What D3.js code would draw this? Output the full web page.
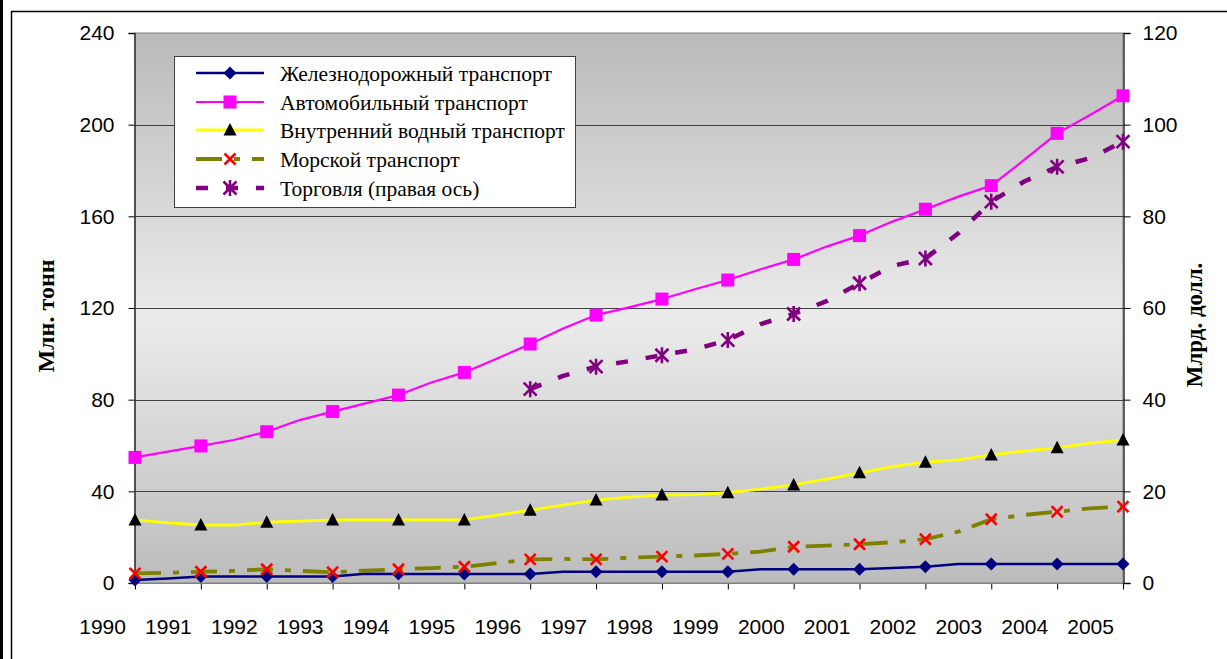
<!DOCTYPE html>
<html><head><meta charset="utf-8">
<script src="https://cdn.jsdelivr.net/npm/d3@7/dist/d3.min.js"></script>
<style>body{margin:0;background:#fff}svg{display:block}</style>
</head><body>
<svg id="chart" width="1227" height="659"></svg>
<script>
// ---- data ----
const years = [1990,1991,1992,1993,1994,1995,1996,1997,1998,1999,2000,2001,2002,2003,2004,2005];
// line vertices at half-year steps (markers sit on whole years)
const pathYears = [1990,1990.5,1991,1991.5,1992,1992.5,1993,1993.5,1994,1994.5,1995,1995.5,1996,1996.5,1997,1997.5,
  1998,1998.5,1999,1999.5,2000,2000.5,2001,2001.5,2002,2002.5,2003,2003.5,2004,2004.5,2005];
const rail  = [1.3,2.0,2.8,2.8,2.8,2.8,2.8,4.0,3.9,3.9,3.9,3.9,3.9,4.9,4.9,4.9,4.9,4.9,4.9,6.0,6.0,6.0,6.0,6.5,7.1,8.3,8.3,8.3,8.3,8.3,8.3];
const road  = [54.8,57.3,59.8,62.4,66.0,71.1,74.8,78.4,82.0,87.5,91.9,98.0,104.3,111.1,116.9,120.3,123.9,128.2,132.2,136.9,141.2,146.8,151.6,157.7,163.1,168.6,173.4,184.6,196.2,204.2,212.6];
const inland= [27.5,26.2,25.3,25.3,26.5,27.0,27.5,27.5,27.5,27.5,27.5,29.6,31.8,34.0,36.2,37.5,38.4,38.6,39.4,41.0,42.8,45.3,48.1,50.8,52.7,53.7,55.9,57.6,59.0,61.0,62.4];
const sea   = [4.2,4.5,4.9,5.3,6.0,5.3,4.7,5.4,6.0,6.5,7.1,8.7,10.3,10.5,10.3,11.0,11.5,12.0,12.7,13.7,15.8,16.3,16.9,17.8,19.1,22.4,27.8,29.7,31.1,32.6,33.3];
const trade = [null,null,null,null,null,null,null,null,null,null,null,null,42.3,45.2,47.2,48.4,49.7,51.0,53.0,56.5,58.7,61.5,65.4,69.2,70.8,76.3,83.2,87.6,90.8,92.7,96.3];
const leftTicks = [0,40,80,120,160,200,240];
const rightTicks = [0,20,40,60,80,100,120];
const seriesNames = ["Железнодорожный транспорт","Автомобильный транспорт","Внутренний водный транспорт","Морской транспорт","Торговля (правая ось)"];
const leftTitle = "Млн. тонн";
const rightTitle = "Млрд. долл.";

// ---- layout ----
const svg = d3.select("#chart");
const X0 = 135, X1 = 1123, Y0 = 583, Y1 = 33;
const x = d3.scaleLinear().domain([1990,2005]).range([X0,X1]);
const yL = d3.scaleLinear().domain([0,240]).range([Y0,Y1]);
const yR = d3.scaleLinear().domain([0,120]).range([Y0,Y1]);
const step = x(1991) - x(1990);

// frame
svg.append("rect").attr("x",0).attr("y",0).attr("width",3).attr("height",659).attr("fill","#000");
svg.append("line").attr("x1",11.5).attr("x2",11.5).attr("y1",11).attr("y2",659).attr("stroke","#000").attr("stroke-width",1.5);
svg.append("line").attr("x1",11).attr("x2",1227).attr("y1",11.5).attr("y2",11.5).attr("stroke","#000").attr("stroke-width",1.5);

// background gradient
const defs = svg.append("defs");
const grad = defs.append("linearGradient").attr("id","bg").attr("x1",0).attr("x2",0).attr("y1",0).attr("y2",1);
grad.append("stop").attr("offset","0%").attr("stop-color","#bababa");
grad.append("stop").attr("offset","52%").attr("stop-color","#ebebeb");
grad.append("stop").attr("offset","100%").attr("stop-color","#bcbcbc");
svg.append("rect").attr("x",X0).attr("y",Y1).attr("width",X1-X0).attr("height",Y0-Y1).attr("fill","url(#bg)")
  .attr("stroke","#808080").attr("stroke-width",1);

// gridlines
svg.append("g").selectAll("line").data(leftTicks.filter(t=>t>0 && t<240)).join("line")
  .attr("x1",X0).attr("x2",X1).attr("y1",d=>Math.round(yL(d))+0.5).attr("y2",d=>Math.round(yL(d))+0.5)
  .attr("stroke","#404040").attr("stroke-width",1);

const font = "'Liberation Sans', Arial, sans-serif";
const serif = "'Liberation Serif', 'Times New Roman', serif";

// left axis
const gL = svg.append("g").attr("transform",`translate(${X0-0.5},0)`)
  .call(d3.axisLeft(yL).tickValues(leftTicks).tickSize(6).tickPadding(14).tickFormat(d3.format("d")));
// right axis
const gR = svg.append("g").attr("transform",`translate(${X1+0.5},0)`)
  .call(d3.axisRight(yR).tickValues(rightTicks).tickSize(7).tickPadding(12).tickFormat(d3.format("d")));
// bottom axis
const gB = svg.append("g").attr("transform",`translate(0,${Y0+0.5})`)
  .call(d3.axisBottom(x).tickValues(years).tickSize(6).tickPadding(30).tickFormat(d3.format("d")));
gB.selectAll(".tick text").attr("dx", -step/2);
[gL,gR,gB].forEach(g=>{
  g.selectAll("text").attr("font-family",font).attr("font-size",21).attr("fill","#000");
  g.selectAll("line").attr("stroke","#000");
  g.select(".domain").attr("stroke","#333").attr("stroke-width",1.5);
});
gB.select(".domain").remove();
svg.append("line").attr("x1",X0).attr("x2",X1).attr("y1",Y0+0.5).attr("y2",Y0+0.5).attr("stroke","#808080");

// axis titles
svg.append("text").attr("transform",`translate(54,${(Y0+Y1)/2+8}) rotate(-90)`).attr("text-anchor","middle")
  .attr("font-family",serif).attr("font-weight","bold").attr("font-size",24).text(leftTitle);
svg.append("text").attr("transform",`translate(1202,${(Y0+Y1)/2+17}) rotate(-90)`).attr("text-anchor","middle")
  .attr("font-family",serif).attr("font-weight","bold").attr("font-size",23).text(rightTitle);

// markers
function marker(g, type, cx, cy){
  const m = g.append("g").attr("transform",`translate(${cx},${cy})`);
  if(type==="diamond") m.append("path").attr("d","M0,-6.5L6.5,0L0,6.5L-6.5,0Z").attr("fill","#000080");
  else if(type==="square") m.append("rect").attr("x",-6.5).attr("y",-6.5).attr("width",13).attr("height",13).attr("fill","#ff00ff");
  else if(type==="triangle") m.append("path").attr("d","M0,-7L6.5,5.5L-6.5,5.5Z").attr("fill","#000");
  else if(type==="x") m.append("path").attr("d","M-5.5,-5.5L5.5,5.5M-5.5,5.5L5.5,-5.5").attr("stroke","#ff0000").attr("stroke-width",2.6).attr("fill","none");
  else if(type==="star") m.append("path").attr("d","M-6.5,-6.5L6.5,6.5M-6.5,6.5L6.5,-6.5M0,-8L0,8").attr("stroke","#800080").attr("stroke-width",2.6).attr("fill","none");
}

const series = [
  {vals:rail,  y:yL, color:"#000080", width:2.5, dash:null, m:"diamond"},
  {vals:road,  y:yL, color:"#ff00ff", width:2.2, dash:null, m:"square"},
  {vals:inland,y:yL, color:"#ffff00", width:2.8, dash:null, m:"triangle"},
  {vals:sea,   y:yL, color:"#808000", width:3.8, dash:"26,12,6,12", m:"x"},
  {vals:trade, y:yR, color:"#800080", width:4.5, dash:"12,18", m:"star"}
];
const plot = svg.append("g");
series.forEach(s=>{
  const pts = pathYears.map((yr,i)=>({yr, v:s.vals[i]}));
  const line = d3.line().defined(d=>d.v!=null).x(d=>x(d.yr)).y(d=>s.y(d.v));
  plot.append("path").attr("d",line(pts)).attr("fill","none").attr("stroke",s.color)
    .attr("stroke-width",s.width).attr("stroke-dasharray",s.dash).attr("stroke-linejoin","round");
});
series.forEach(s=>{
  pathYears.forEach((yr,i)=>{
    if(years.includes(yr) && s.vals[i]!=null) marker(plot, s.m, x(yr), s.y(s.vals[i]));
  });
});

// legend
const lg = svg.append("g");
lg.append("rect").attr("x",174.5).attr("y",56.5).attr("width",401).attr("height",151).attr("fill","#fff").attr("stroke","#404040");
const rowY = [73,102,130,159,188];
series.forEach((s,i)=>{
  lg.append("line").attr("x1",196).attr("x2",264).attr("y1",rowY[i]).attr("y2",rowY[i])
    .attr("stroke",s.color).attr("stroke-width",s.width).attr("stroke-dasharray",s.dash);
  marker(lg, s.m, 230, rowY[i]);
  lg.append("text").attr("x",280).attr("y",rowY[i]).attr("dy","0.35em").attr("font-family",serif)
    .attr("font-size",21.5).attr("fill","#000").text(seriesNames[i]);
});
</script>
</body></html>
